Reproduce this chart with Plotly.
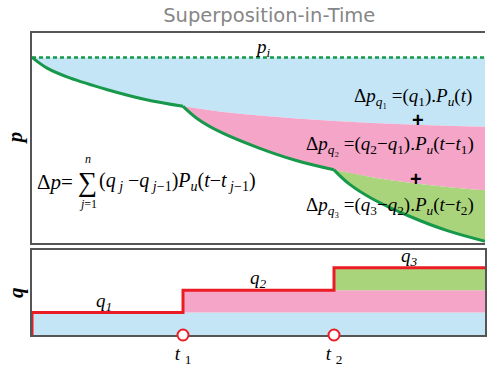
import plotly.graph_objects as go

# ---- data -------------------------------------------------------------
# rate-change times and the rates held after each change
t_breaks = [0.0, 1.0, 2.0]
t_end = 3.0
rates = [1.0, 2.0, 3.0]          # q1, q2, q3
rate_labels = ["q<sub>1</sub>", "q<sub>2</sub>", "q<sub>3</sub>"]

# initial reservoir pressure
p_init = 190.0

# pressure after the q1 response alone: p_i - q1*Pu(t)
t_resp1 = [0, 0.1, 0.25, 0.5, 0.75, 1.0, 1.25, 1.5, 1.75, 2.0, 2.25, 2.5, 2.75, 3.0]
p_resp1 = [190, 179, 169, 157, 147, 140, 134.5, 130.5, 127.5, 125, 123, 121.3, 120, 119]

# after adding the (q2-q1) response starting at t1
t_resp2 = [1.0, 1.1, 1.25, 1.5, 1.75, 2.0, 2.25, 2.5, 2.75, 3.0]
p_resp2 = [140, 126.8, 113.5, 97.5, 84.5, 75, 67.5, 61.8, 57.5, 54]

# after adding the (q3-q2) response starting at t2
t_resp3 = [2.0, 2.1, 2.25, 2.5, 2.75, 3.0]
p_resp3 = [75, 60.6, 45.7, 27.5, 12.8, 2]

# ---- styling ----------------------------------------------------------
BLUE = "#c4e5f6"
PINK = "#f4a5c8"
GREEN_FILL = "#a9d47c"
GREEN_LINE = "#17984a"
RED = "#ec1c24"
FRAME = "#555555"
SERIF = "Liberation Serif, Times New Roman, serif"
SANS = "Liberation Sans, Arial, sans-serif"

fig = go.Figure()

def band(x_upper, y_upper, x_lower, y_lower, color, xa="x", ya="y"):
    fig.add_trace(go.Scatter(x=x_lower, y=y_lower, mode="lines", line=dict(width=0, shape="spline"),
                             hoverinfo="skip", showlegend=False, xaxis=xa, yaxis=ya))
    fig.add_trace(go.Scatter(x=x_upper, y=y_upper, mode="lines", line=dict(width=0, shape="spline"),
                             fill="tonexty", fillcolor=color, hoverinfo="skip", showlegend=False,
                             xaxis=xa, yaxis=ya))

# top panel: superposed pressure responses
i1 = t_resp1.index(t_breaks[1])
i2 = t_resp2.index(t_breaks[2])
band([t_breaks[0], t_end], [p_init, p_init], t_resp1, p_resp1, BLUE)
band(t_resp1[i1:], p_resp1[i1:], t_resp2, p_resp2, PINK)
band(t_resp2[i2:], p_resp2[i2:], t_resp3, p_resp3, GREEN_FILL)

fig.add_trace(go.Scatter(x=[t_breaks[0], t_end], y=[p_init, p_init], mode="lines",
                         line=dict(color=GREEN_LINE, width=2.5, dash="4px,3px"),
                         hoverinfo="skip", showlegend=False))
for xs, ys in [(t_resp1[:i1 + 1], p_resp1[:i1 + 1]),
               (t_resp2[:i2 + 1], p_resp2[:i2 + 1]),
               (t_resp3, p_resp3)]:
    fig.add_trace(go.Scatter(x=xs, y=ys, mode="lines",
                             line=dict(color=GREEN_LINE, width=3, shape="spline"),
                             hoverinfo="skip", showlegend=False, cliponaxis=False))

# bottom panel: stacked rate history
levels = [0.0] + rates
colors = [BLUE, PINK, GREEN_FILL]
for k in range(len(rates)):
    x0 = t_breaks[k]
    fig.add_trace(go.Scatter(x=[x0, t_end, t_end, x0, x0],
                             y=[levels[k], levels[k], levels[k + 1], levels[k + 1], levels[k]],
                             mode="lines", line=dict(width=0), fill="toself", fillcolor=colors[k],
                             hoverinfo="skip", showlegend=False, xaxis="x2", yaxis="y2"))

fig.add_trace(go.Scatter(x=[t_breaks[0]] + t_breaks + [t_end],
                         y=[0.0] + rates + [rates[-1]],
                         mode="lines", line=dict(color=RED, width=3, shape="hv"),
                         hoverinfo="skip", showlegend=False, cliponaxis=False,
                         xaxis="x2", yaxis="y2"))

# open circles marking the rate-change times on the time axis
# (the rate panel starts at the bottom of the plotting area, so q = 0 is paper y = 0)
shapes = []
for tb in t_breaks[1:]:
    shapes.append(dict(type="circle", xref="x2", yref="paper", xsizemode="pixel", ysizemode="pixel",
                       xanchor=tb, yanchor=0, x0=-5.5, x1=5.5, y0=-5.5, y1=5.5,
                       line=dict(color=RED, width=2), fillcolor="white", layer="above"))

# ---- text -------------------------------------------------------------
ann = []
def txt(x, y, s, size=18, xa="x", ya="y", anchor="center", family=SERIF, **kw):
    ann.append(dict(x=x, y=y, xref=xa, yref=ya, text=s, showarrow=False, xanchor=anchor,
                    yanchor="middle", font=dict(family=family, size=size, color="black"), **kw))

txt(1.53, 200, "<i>p<sub>i</sub></i>", size=19)

# general superposition formula
txt(0.02, 63, "Δ<i>p</i>=", size=21, anchor="left")
txt(0.37, 63, "∑", size=27)
txt(0.37, 86, "<i>n</i>", size=12)
txt(0.37, 40, "<i>j</i>=1", size=12)
txt(0.43, 63, "(<i>q</i><sub> <i>j</i></sub> −<i>q</i><sub> <i>j</i>−1</sub>)<i>P<sub>u</sub></i>(<i>t</i>−<i>t</i><sub> <i>j</i>−1</sub>)",
    size=20, anchor="left")

# individual rate-step contributions
txt(2.93, 150, "Δ<i>p</i><sub><i>q</i>₁</sub> =(<i>q</i><sub>1</sub>).<i>P<sub>u</sub></i>(<i>t</i>)", size=19, anchor="right")
txt(2.94, 100, "Δ<i>p</i><sub><i>q</i>₂</sub> =(<i>q</i><sub>2</sub>−<i>q</i><sub>1</sub>).<i>P<sub>u</sub></i>(<i>t</i>−<i>t</i><sub>1</sub>)", size=19, anchor="right")
txt(2.94, 38, "Δ<i>p</i><sub><i>q</i>₃</sub> =(<i>q</i><sub>3</sub>−<i>q</i><sub>2</sub>).<i>P<sub>u</sub></i>(<i>t</i>−<i>t</i><sub>2</sub>)", size=19, anchor="right")
txt(2.558, 126, "<b>+</b>", size=20, family=SANS)
txt(2.545, 66, "<b>+</b>", size=20, family=SANS)

# rate labels above each step
label_t = [0.48, 1.5, 2.5]
for k, s in enumerate(rate_labels):
    txt(label_t[k], rates[k] + 0.48, "<i>" + s + "</i>", size=19, xa="x2", ya="y2")

# axis names
txt(-0.037, 0.652, "<b><i>p</i></b>", size=21, xa="paper", ya="paper", textangle=-90)
txt(-0.037, 0.14, "<b><i>q</i></b>", size=21, xa="paper", ya="paper", textangle=-90)
txt(1.5, -0.66, "<b><i>t</i></b>", size=20, xa="x2", ya="y2")

# ---- layout -----------------------------------------------------------
axis_common = dict(showgrid=False, zeroline=False, showline=True, linecolor=FRAME, linewidth=2,
                   ticks="", fixedrange=True)
fig.update_layout(
    width=487, height=367,
    margin=dict(l=32, r=0, t=33, b=25),
    paper_bgcolor="white", plot_bgcolor="white",
    title=dict(text="Superposition-in-Time", x=0.553, xanchor="center", y=0.958, yanchor="middle",
               font=dict(family="DejaVu Sans", size=19.5, color="#868686")),
    xaxis=dict(axis_common, domain=[0, 1], range=[0, t_end], mirror=True, anchor="y",
               showticklabels=False),
    yaxis=dict(axis_common, domain=[0.3042, 1], range=[0, 215], mirror=False, anchor="x",
               showticklabels=False),
    xaxis2=dict(axis_common, domain=[0, 1], range=[0, t_end], mirror=True, anchor="y2",
                tickvals=t_breaks[1:], ticktext=["<i>t</i> <sub>1</sub>", "<i>t</i> <sub>2</sub>"],
                tickfont=dict(family=SERIF, size=19, color="black"), ticklen=0),
    yaxis2=dict(axis_common, domain=[0, 0.2816], range=[0, 3.8], mirror=True, anchor="x2",
                showticklabels=False),
    annotations=ann,
    shapes=shapes,
)

fig.write_html("out.html")
